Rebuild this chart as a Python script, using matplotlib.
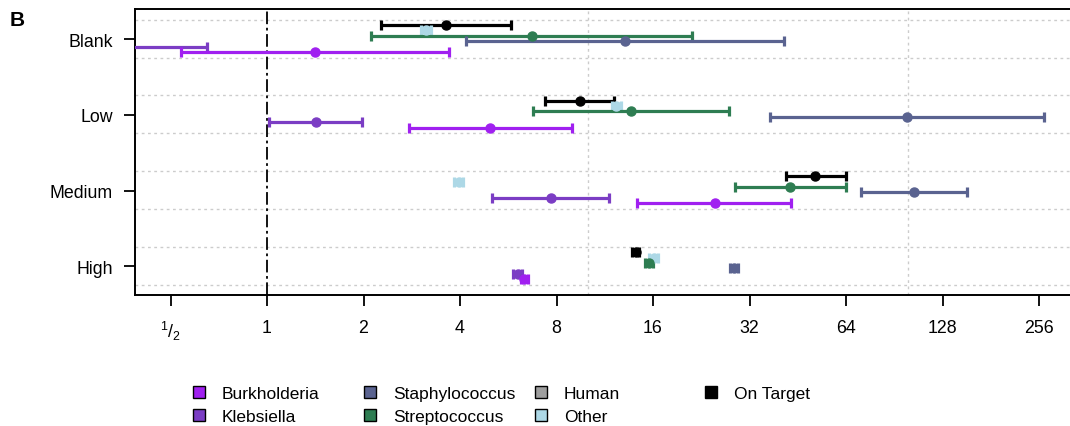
import numpy as np
import matplotlib
matplotlib.use("Agg")
import matplotlib.pyplot as plt
from matplotlib.lines import Line2D

plt.rcParams["font.family"] = ["Liberation Sans", "DejaVu Sans"]
plt.rcParams["mathtext.fontset"] = "custom"
plt.rcParams["mathtext.rm"] = "Liberation Sans"
plt.rcParams["mathtext.it"] = "Liberation Sans"

# categories, top to bottom
categories = ["Blank", "Low", "Medium", "High"]

# series in drawing order (top to bottom inside a category)
series = ["On Target", "Other", "Streptococcus", "Staphylococcus", "Klebsiella", "Burkholderia"]
colors = {
    "Burkholderia": "#A020F0",
    "Klebsiella": "#7B3DC4",
    "Staphylococcus": "#5A6390",
    "Streptococcus": "#2E7D52",
    "Human": "#9E9E9E",
    "Other": "#ADD8E6",
    "On Target": "#000000",
}

# estimate, lower, upper per category (Blank, Low, Medium, High)
on_target_mid = [3.62, 9.49, 51.4, 14.15]
on_target_lo = [2.27, 7.39, 41.6, 13.8]
on_target_hi = [5.77, 12.1, 63.8, 14.5]

other_mid = [3.13, 12.3, 3.96, 16.1]
other_lo = [3.02, 11.9, 3.83, 15.6]
other_hi = [3.24, 12.7, 4.09, 16.6]

strep_mid = [6.71, 13.66, 42.9, 15.55]
strep_lo = [2.11, 6.78, 28.9, 15.1]
strep_hi = [21.2, 27.7, 63.8, 16.0]

staph_mid = [13.07, 99.1, 104.2, 28.6]
staph_lo = [4.18, 37.0, 71.3, 27.8]
staph_hi = [41.1, 265.0, 152.5, 29.4]

kleb_mid = [0.25, 1.417, 7.67, 6.05]
kleb_lo = [0.10, 1.014, 5.05, 5.85]
kleb_hi = [0.65, 1.98, 11.69, 6.25]

burk_mid = [1.41, 4.97, 24.9, 6.33]
burk_lo = [0.539, 2.77, 14.3, 6.2]
burk_hi = [3.70, 8.94, 43.1, 6.5]

values = {
    "On Target": (on_target_mid, on_target_lo, on_target_hi),
    "Other": (other_mid, other_lo, other_hi),
    "Streptococcus": (strep_mid, strep_lo, strep_hi),
    "Staphylococcus": (staph_mid, staph_lo, staph_hi),
    "Klebsiella": (kleb_mid, kleb_lo, kleb_hi),
    "Burkholderia": (burk_mid, burk_lo, burk_hi),
}

offsets = [0.187, 0.113, 0.044, -0.026, -0.102, -0.169]

x_ticks = [0.5, 1, 2, 4, 8, 16, 32, 64, 128, 256]
x_labels = [r"$^1/_2$", "1", "2", "4", "8", "16", "32", "64", "128", "256"]

fig = plt.figure(figsize=(10.7, 4.27), dpi=100)
ax = fig.add_axes([135 / 1070, 1 - 296 / 427, 1 - 135 / 1070, 286 / 427])

ypos = np.array([4, 3, 2, 1], dtype=float)

# dotted grid
for y in ypos:
    ax.axhline(y + 0.255, color="#cccccc", lw=1.0, ls=(0, (2, 2.5)), zorder=0)
    ax.axhline(y - 0.245, color="#cccccc", lw=1.0, ls=(0, (2, 2.5)), zorder=0)
for xv in [10, 100]:
    ax.axvline(xv, color="#cccccc", lw=1.0, ls=(0, (2, 2.5)), zorder=0)
ax.axvline(1, color="black", lw=1.3, ls=(0, (7, 2, 1.5, 2)), zorder=1)

for name, off in zip(series, offsets):
    mid, lo, hi = (np.array(v) for v in values[name])
    ax.errorbar(mid, ypos + off, xerr=[mid - lo, hi - mid], fmt="o",
                color=colors[name], ms=6.5, lw=2.3, capsize=3.8, capthick=2.3,
                zorder=3)

ax.set_xscale("log", base=2)
ax.set_xlim(2 ** (-132 / 96.5), 2 ** (803 / 96.5))
ax.set_ylim(0.621, 4.396)
ax.set_xticks(x_ticks)
ax.set_xticklabels(x_labels)
ax.xaxis.set_minor_locator(matplotlib.ticker.NullLocator())
ax.set_yticks(ypos)
ax.set_yticklabels(categories)
ax.tick_params(axis="both", labelsize=12.8, length=8, width=1.3, color="black")
ax.tick_params(axis="x", pad=9)
ax.tick_params(axis="y", pad=8)
ax.spines["right"].set_visible(False)
for s in ["left", "top", "bottom"]:
    ax.spines[s].set_linewidth(1.4)

fig.text(10 / 1070, 1 - 11 / 427, "B", fontsize=15, fontweight="bold", va="top", ha="left")

# legend, four fixed-width columns
legend_cols = [["Burkholderia", "Klebsiella"], ["Staphylococcus", "Streptococcus"],
               ["Human", "Other"], ["On Target"]]
col_x = [190, 361, 532, 702]
for names, cx in zip(legend_cols, col_x):
    handles = [Line2D([], [], marker="s", ls="none", ms=9, markerfacecolor=colors[n],
                      markeredgecolor="black", markeredgewidth=1.0) for n in names]
    fig.legend(handles, names, loc="upper left", bbox_to_anchor=(cx / 1070, 1 - 387 / 427),
               frameon=False, fontsize=12.5, handlelength=1.0, handletextpad=0.85,
               labelspacing=0.42, borderpad=0, borderaxespad=0)

fig.savefig("out.png", dpi=100)
